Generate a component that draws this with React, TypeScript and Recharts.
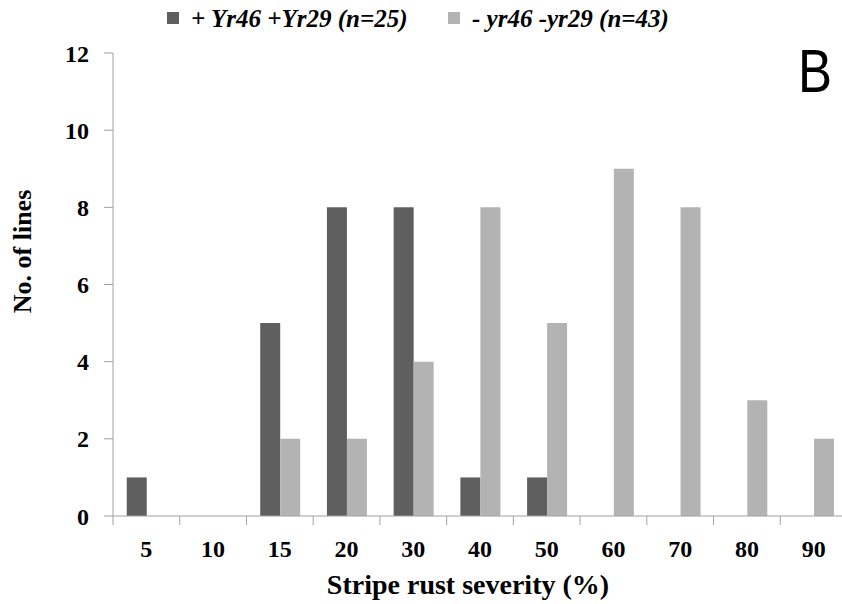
import React from 'react';
import { BarChart, Bar, XAxis, YAxis, Legend, Label } from 'recharts';

const categories = ['5', '10', '15', '20', '30', '40', '50', '60', '70', '80', '90'];
const withGenes = [1, 0, 5, 8, 8, 1, 1, 0, 0, 0, 0];
const withoutGenes = [0, 0, 2, 2, 4, 8, 5, 9, 8, 3, 2];
const yTicks = [0, 2, 4, 6, 8, 10, 12];
const seriesNames = ['+ Yr46 +Yr29 (n=25)', '- yr46 -yr29 (n=43)'];
const panelLetter = 'B';

const DARK = '#5f5f5f';
const LIGHT = '#b3b3b3';
const AXIS = '#a0a0a0';
const SERIF = '"Liberation Serif", "Times New Roman", serif';

const data = categories.map((c, i) => ({
  severity: c,
  withGenes: withGenes[i],
  withoutGenes: withoutGenes[i],
}));

const XTick = (props: any) => {
  const { x, y, payload, width, visibleTicksCount } = props;
  const half =
    payload && typeof payload.offset === 'number' && payload.offset > 0
      ? payload.offset
      : width / visibleTicksCount / 2;
  const bx = x - half;
  return (
    <g>
      <line x1={bx} x2={bx} y1={y - 9} y2={y} stroke={AXIS} strokeWidth={1} />
      <text
        x={x}
        y={y + 32}
        textAnchor="middle"
        fontFamily={SERIF}
        fontWeight="bold"
        fontSize={24}
        fill="#000"
      >
        {payload.value}
      </text>
    </g>
  );
};

const LegendContent = () => (
  <div style={{ position: 'relative', width: 842, height: 53 }}>
    {[DARK, LIGHT].map((color, i) => {
      const left = i === 0 ? 167 : 448;
      return (
        <div key={i}>
          <div
            style={{
              position: 'absolute',
              left,
              top: 12,
              width: 12,
              height: 12,
              background: color,
            }}
          />
          <div
            style={{
              position: 'absolute',
              left: left + 24,
              top: 5,
              fontFamily: SERIF,
              fontWeight: 'bold',
              fontStyle: 'italic',
              fontSize: 25,
              lineHeight: '28px',
              whiteSpace: 'nowrap',
              color: '#000',
            }}
          >
            {seriesNames[i]}
          </div>
        </div>
      );
    })}
  </div>
);

export default function App() {
  return (
    <div
      style={{
        position: 'absolute',
        left: 0,
        top: 0,
        width: 842,
        height: 604,
        overflow: 'hidden',
        background: '#fff',
      }}
    >
      <BarChart
        width={847}
        height={604}
        data={data}
        margin={{ top: 0, right: 0, bottom: 0, left: 0 }}
        barCategoryGap="20.6%"
        barGap={0}
      >
        <Legend
          verticalAlign="top"
          align="left"
          content={<LegendContent />}
          wrapperStyle={{ left: 0, top: 0, width: 842, height: 53 }}
        />
        <XAxis
          dataKey="severity"
          type="category"
          height={88}
          tickLine={false}
          tickSize={9}
          tickMargin={0}
          axisLine={{ stroke: AXIS, strokeWidth: 1 }}
          tick={<XTick />}
          interval={0}
        >
          <Label
            content={(p: any) => {
              const vb = p.viewBox || {};
              return (
                <text
                  x={vb.x + vb.width / 2 - 12}
                  y={vb.y + vb.height - 10}
                  textAnchor="middle"
                  fontFamily={SERIF}
                  fontWeight="bold"
                  fontSize={28}
                  fill="#000"
                >
                  Stripe rust severity (%)
                </text>
              );
            }}
          />
        </XAxis>
        <YAxis
          width={113}
          domain={[0, 12]}
          ticks={yTicks}
          interval={0}
          tickSize={9}
          tickMargin={15}
          axisLine={{ stroke: AXIS, strokeWidth: 1 }}
          tickLine={{ stroke: AXIS, strokeWidth: 1 }}
          tick={{ fontFamily: SERIF, fontWeight: 'bold', fontSize: 24, fill: '#000' }}
        >
          <Label
            content={(p: any) => {
              const vb = p.viewBox || {};
              const cx = vb.x + 22;
              const cy = vb.y + vb.height / 2 - 33;
              return (
                <text
                  x={cx}
                  y={cy}
                  transform={`rotate(-90, ${cx}, ${cy})`}
                  textAnchor="middle"
                  dominantBaseline="central"
                  fontFamily={SERIF}
                  fontWeight="bold"
                  fontSize={26}
                  fill="#000"
                >
                  No. of lines
                </text>
              );
            }}
          />
        </YAxis>
        <Bar dataKey="withGenes" name={seriesNames[0]} fill={DARK} isAnimationActive={false} />
        <Bar dataKey="withoutGenes" name={seriesNames[1]} fill={LIGHT} isAnimationActive={false} />
      </BarChart>
      <svg
        width={842}
        height={604}
        style={{ position: 'absolute', left: 0, top: 0, pointerEvents: 'none' }}
      >
        <text
          x={798}
          y={92}
          fontFamily='"Liberation Sans", Arial, sans-serif'
          fontSize={62}
          textLength={34}
          lengthAdjust="spacingAndGlyphs"
          fill="#000"
        >
          {panelLetter}
        </text>
      </svg>
    </div>
  );
}
